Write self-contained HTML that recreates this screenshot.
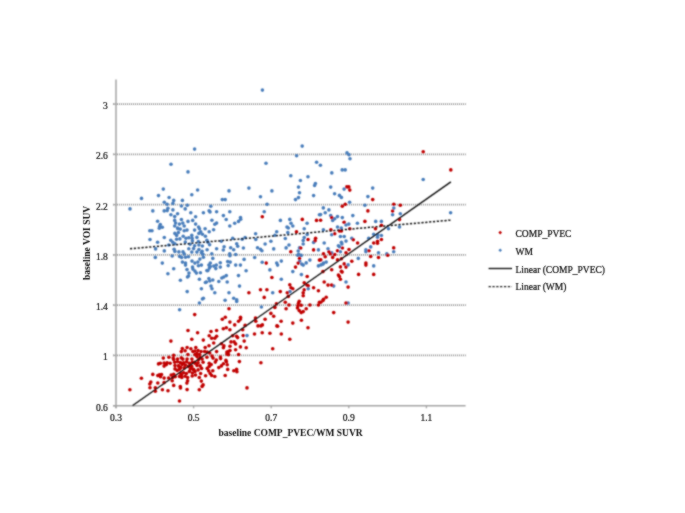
<!DOCTYPE html>
<html><head><meta charset="utf-8"><style>html,body{margin:0;padding:0;background:#fff;width:685px;height:513px;overflow:hidden}svg{display:block}</style></head><body>
<svg width="685" height="513" viewBox="0 0 685 513">
<defs><filter id="bl" filterUnits="userSpaceOnUse" x="0" y="0" width="685" height="513"><feConvolveMatrix order="3" kernelMatrix="1 2 1 2 8 2 1 2 1" divisor="20" edgeMode="duplicate"/></filter><filter id="gs" x="-5%" y="-20%" width="110%" height="140%"><feColorMatrix type="saturate" values="0"/><feConvolveMatrix order="3" kernelMatrix="1 1 1 1 16 1 1 1 1" divisor="24" edgeMode="duplicate"/></filter></defs>
<rect width="685" height="513" fill="#fff"/>
<g filter="url(#bl)">
<line x1="113" y1="355.43" x2="465.8" y2="355.43" stroke="#8E8E8E" stroke-width="1.8" stroke-dasharray="1,1"/>
<line x1="113" y1="305.16" x2="465.8" y2="305.16" stroke="#8E8E8E" stroke-width="1.8" stroke-dasharray="1,1"/>
<line x1="113" y1="254.90" x2="465.8" y2="254.90" stroke="#8E8E8E" stroke-width="1.8" stroke-dasharray="1,1"/>
<line x1="113" y1="204.63" x2="465.8" y2="204.63" stroke="#8E8E8E" stroke-width="1.8" stroke-dasharray="1,1"/>
<line x1="113" y1="154.36" x2="465.8" y2="154.36" stroke="#8E8E8E" stroke-width="1.8" stroke-dasharray="1,1"/>
<line x1="113" y1="104.09" x2="465.8" y2="104.09" stroke="#8E8E8E" stroke-width="1.8" stroke-dasharray="1,1"/>
<line x1="116" y1="79.5" x2="116" y2="408.3" stroke="#A5A5A5" stroke-width="1.5"/>
<line x1="113" y1="405.70" x2="465.6" y2="405.70" stroke="#A5A5A5" stroke-width="1.5"/>
<line x1="113" y1="405.70" x2="116" y2="405.70" stroke="#A5A5A5" stroke-width="1.3"/>
<line x1="113" y1="355.43" x2="116" y2="355.43" stroke="#A5A5A5" stroke-width="1.3"/>
<line x1="113" y1="305.16" x2="116" y2="305.16" stroke="#A5A5A5" stroke-width="1.3"/>
<line x1="113" y1="254.90" x2="116" y2="254.90" stroke="#A5A5A5" stroke-width="1.3"/>
<line x1="113" y1="204.63" x2="116" y2="204.63" stroke="#A5A5A5" stroke-width="1.3"/>
<line x1="113" y1="154.36" x2="116" y2="154.36" stroke="#A5A5A5" stroke-width="1.3"/>
<line x1="113" y1="104.09" x2="116" y2="104.09" stroke="#A5A5A5" stroke-width="1.3"/>
<line x1="116.00" y1="405.70" x2="116.00" y2="408.3" stroke="#A5A5A5" stroke-width="1.3"/>
<line x1="193.60" y1="405.70" x2="193.60" y2="408.3" stroke="#A5A5A5" stroke-width="1.3"/>
<line x1="271.20" y1="405.70" x2="271.20" y2="408.3" stroke="#A5A5A5" stroke-width="1.3"/>
<line x1="348.80" y1="405.70" x2="348.80" y2="408.3" stroke="#A5A5A5" stroke-width="1.3"/>
<line x1="426.40" y1="405.70" x2="426.40" y2="408.3" stroke="#A5A5A5" stroke-width="1.3"/>
</g><g filter="url(#gs)">
<text x="107.8" y="410.60" text-anchor="end" font-family="Liberation Serif, serif" font-size="9.5" fill="#111" stroke="#111" stroke-width="0.22">0.6</text>
<text x="107.8" y="360.33" text-anchor="end" font-family="Liberation Serif, serif" font-size="9.5" fill="#111" stroke="#111" stroke-width="0.22">1</text>
<text x="107.8" y="310.06" text-anchor="end" font-family="Liberation Serif, serif" font-size="9.5" fill="#111" stroke="#111" stroke-width="0.22">1.4</text>
<text x="107.8" y="259.80" text-anchor="end" font-family="Liberation Serif, serif" font-size="9.5" fill="#111" stroke="#111" stroke-width="0.22">1.8</text>
<text x="107.8" y="209.53" text-anchor="end" font-family="Liberation Serif, serif" font-size="9.5" fill="#111" stroke="#111" stroke-width="0.22">2.2</text>
<text x="107.8" y="159.26" text-anchor="end" font-family="Liberation Serif, serif" font-size="9.5" fill="#111" stroke="#111" stroke-width="0.22">2.6</text>
<text x="107.8" y="108.99" text-anchor="end" font-family="Liberation Serif, serif" font-size="9.5" fill="#111" stroke="#111" stroke-width="0.22">3</text>
<text x="116.00" y="420.6" text-anchor="middle" font-family="Liberation Serif, serif" font-size="9.5" fill="#111" stroke="#111" stroke-width="0.22">0.3</text>
<text x="193.60" y="420.6" text-anchor="middle" font-family="Liberation Serif, serif" font-size="9.5" fill="#111" stroke="#111" stroke-width="0.22">0.5</text>
<text x="271.20" y="420.6" text-anchor="middle" font-family="Liberation Serif, serif" font-size="9.5" fill="#111" stroke="#111" stroke-width="0.22">0.7</text>
<text x="348.80" y="420.6" text-anchor="middle" font-family="Liberation Serif, serif" font-size="9.5" fill="#111" stroke="#111" stroke-width="0.22">0.9</text>
<text x="426.40" y="420.6" text-anchor="middle" font-family="Liberation Serif, serif" font-size="9.5" fill="#111" stroke="#111" stroke-width="0.22">1.1</text>
<text x="290.6" y="436.3" text-anchor="middle" font-family="Liberation Serif, serif" font-size="9.5" font-weight="bold" fill="#111">baseline COMP_PVEC/WM SUVR</text>
<text transform="translate(90.3,242.9) rotate(-90)" x="0" y="0" text-anchor="middle" font-family="Liberation Serif, serif" font-size="9.5" font-weight="bold" fill="#111">baseline VOI SUV</text>
</g><g filter="url(#bl)">
<g fill="#4A7EBB">
<circle cx="194.6" cy="149.1" r="1.8"/>
<circle cx="171.0" cy="164.3" r="1.8"/>
<circle cx="188.0" cy="171.9" r="1.8"/>
<circle cx="262.4" cy="90.1" r="1.8"/>
<circle cx="302.2" cy="146.1" r="1.8"/>
<circle cx="296.6" cy="155.7" r="1.8"/>
<circle cx="347.0" cy="152.9" r="1.8"/>
<circle cx="349.0" cy="154.7" r="1.8"/>
<circle cx="350.0" cy="158.7" r="1.8"/>
<circle cx="266.0" cy="163.3" r="1.8"/>
<circle cx="316.6" cy="162.3" r="1.8"/>
<circle cx="320.4" cy="165.3" r="1.8"/>
<circle cx="342.2" cy="169.9" r="1.8"/>
<circle cx="345.2" cy="169.9" r="1.8"/>
<circle cx="331.8" cy="172.9" r="1.8"/>
<circle cx="290.8" cy="175.7" r="1.8"/>
<circle cx="308.0" cy="176.7" r="1.8"/>
<circle cx="300.4" cy="180.5" r="1.8"/>
<circle cx="423.2" cy="179.5" r="1.8"/>
<circle cx="163.3" cy="189.1" r="1.8"/>
<circle cx="158.5" cy="195.6" r="1.8"/>
<circle cx="141.5" cy="198.4" r="1.8"/>
<circle cx="169.1" cy="197.5" r="1.8"/>
<circle cx="173.7" cy="200.4" r="1.8"/>
<circle cx="182.4" cy="200.4" r="1.8"/>
<circle cx="164.3" cy="202.2" r="1.8"/>
<circle cx="167.1" cy="204.2" r="1.8"/>
<circle cx="172.9" cy="203.4" r="1.8"/>
<circle cx="181.4" cy="206.0" r="1.8"/>
<circle cx="130.0" cy="208.9" r="1.8"/>
<circle cx="152.8" cy="210.9" r="1.8"/>
<circle cx="167.9" cy="208.3" r="1.8"/>
<circle cx="164.2" cy="210.9" r="1.8"/>
<circle cx="167.2" cy="210.6" r="1.8"/>
<circle cx="172.9" cy="209.9" r="1.8"/>
<circle cx="170.9" cy="214.7" r="1.8"/>
<circle cx="177.6" cy="213.7" r="1.8"/>
<circle cx="174.7" cy="216.6" r="1.8"/>
<circle cx="181.4" cy="219.5" r="1.8"/>
<circle cx="174.7" cy="220.4" r="1.8"/>
<circle cx="157.6" cy="221.3" r="1.8"/>
<circle cx="175.6" cy="223.1" r="1.8"/>
<circle cx="160.3" cy="224.5" r="1.8"/>
<circle cx="179.4" cy="224.1" r="1.8"/>
<circle cx="182.8" cy="223.1" r="1.8"/>
<circle cx="174.7" cy="226.0" r="1.8"/>
<circle cx="159.7" cy="226.2" r="1.8"/>
<circle cx="162.3" cy="227.2" r="1.8"/>
<circle cx="159.3" cy="228.2" r="1.8"/>
<circle cx="177.6" cy="228.0" r="1.8"/>
<circle cx="149.8" cy="230.8" r="1.8"/>
<circle cx="152.0" cy="230.8" r="1.8"/>
<circle cx="197.6" cy="190.0" r="1.8"/>
<circle cx="191.8" cy="194.7" r="1.8"/>
<circle cx="229.0" cy="190.9" r="1.8"/>
<circle cx="248.9" cy="188.1" r="1.8"/>
<circle cx="222.3" cy="199.6" r="1.8"/>
<circle cx="225.2" cy="199.6" r="1.8"/>
<circle cx="187.3" cy="205.2" r="1.8"/>
<circle cx="185.2" cy="208.9" r="1.8"/>
<circle cx="210.8" cy="206.2" r="1.8"/>
<circle cx="190.8" cy="212.7" r="1.8"/>
<circle cx="203.4" cy="212.7" r="1.8"/>
<circle cx="209.1" cy="210.8" r="1.8"/>
<circle cx="210.0" cy="211.9" r="1.8"/>
<circle cx="216.6" cy="211.7" r="1.8"/>
<circle cx="229.8" cy="211.7" r="1.8"/>
<circle cx="195.6" cy="216.7" r="1.8"/>
<circle cx="223.4" cy="215.6" r="1.8"/>
<circle cx="226.2" cy="219.5" r="1.8"/>
<circle cx="188.0" cy="221.4" r="1.8"/>
<circle cx="192.7" cy="220.4" r="1.8"/>
<circle cx="211.9" cy="220.3" r="1.8"/>
<circle cx="240.5" cy="217.6" r="1.8"/>
<circle cx="240.7" cy="219.3" r="1.8"/>
<circle cx="238.5" cy="221.4" r="1.8"/>
<circle cx="195.6" cy="224.1" r="1.8"/>
<circle cx="198.6" cy="227.0" r="1.8"/>
<circle cx="214.8" cy="224.3" r="1.8"/>
<circle cx="216.6" cy="223.1" r="1.8"/>
<circle cx="234.7" cy="223.3" r="1.8"/>
<circle cx="229.8" cy="226.0" r="1.8"/>
<circle cx="184.2" cy="226.0" r="1.8"/>
<circle cx="200.7" cy="231.7" r="1.8"/>
<circle cx="205.1" cy="228.8" r="1.8"/>
<circle cx="209.2" cy="231.7" r="1.8"/>
<circle cx="213.6" cy="229.8" r="1.8"/>
<circle cx="271.9" cy="190.9" r="1.8"/>
<circle cx="260.5" cy="196.7" r="1.8"/>
<circle cx="298.5" cy="187.1" r="1.8"/>
<circle cx="315.4" cy="183.5" r="1.8"/>
<circle cx="314.6" cy="185.5" r="1.8"/>
<circle cx="299.5" cy="192.7" r="1.8"/>
<circle cx="313.6" cy="195.6" r="1.8"/>
<circle cx="298.5" cy="197.6" r="1.8"/>
<circle cx="295.5" cy="199.6" r="1.8"/>
<circle cx="267.1" cy="204.2" r="1.8"/>
<circle cx="264.2" cy="211.8" r="1.8"/>
<circle cx="280.4" cy="220.4" r="1.8"/>
<circle cx="289.8" cy="219.4" r="1.8"/>
<circle cx="291.0" cy="223.3" r="1.8"/>
<circle cx="292.8" cy="226.0" r="1.8"/>
<circle cx="287.0" cy="227.0" r="1.8"/>
<circle cx="288.3" cy="228.0" r="1.8"/>
<circle cx="307.1" cy="223.3" r="1.8"/>
<circle cx="304.2" cy="228.8" r="1.8"/>
<circle cx="319.4" cy="214.7" r="1.8"/>
<circle cx="276.7" cy="231.7" r="1.8"/>
<circle cx="287.8" cy="232.5" r="1.8"/>
<circle cx="330.7" cy="187.1" r="1.8"/>
<circle cx="344.1" cy="189.1" r="1.8"/>
<circle cx="372.7" cy="188.1" r="1.8"/>
<circle cx="334.6" cy="193.7" r="1.8"/>
<circle cx="339.4" cy="195.4" r="1.8"/>
<circle cx="341.4" cy="197.4" r="1.8"/>
<circle cx="367.9" cy="196.6" r="1.8"/>
<circle cx="349.6" cy="202.2" r="1.8"/>
<circle cx="364.9" cy="205.2" r="1.8"/>
<circle cx="323.3" cy="207.9" r="1.8"/>
<circle cx="328.9" cy="209.9" r="1.8"/>
<circle cx="325.2" cy="212.7" r="1.8"/>
<circle cx="320.6" cy="214.6" r="1.8"/>
<circle cx="330.7" cy="215.6" r="1.8"/>
<circle cx="334.7" cy="218.8" r="1.8"/>
<circle cx="332.7" cy="220.4" r="1.8"/>
<circle cx="337.5" cy="216.6" r="1.8"/>
<circle cx="342.3" cy="217.6" r="1.8"/>
<circle cx="352.8" cy="215.6" r="1.8"/>
<circle cx="346.0" cy="225.0" r="1.8"/>
<circle cx="348.8" cy="224.1" r="1.8"/>
<circle cx="357.4" cy="223.3" r="1.8"/>
<circle cx="375.7" cy="221.4" r="1.8"/>
<circle cx="381.4" cy="221.4" r="1.8"/>
<circle cx="337.5" cy="227.0" r="1.8"/>
<circle cx="341.3" cy="228.0" r="1.8"/>
<circle cx="323.4" cy="229.8" r="1.8"/>
<circle cx="393.8" cy="208.1" r="1.8"/>
<circle cx="392.6" cy="214.7" r="1.8"/>
<circle cx="400.3" cy="213.7" r="1.8"/>
<circle cx="399.5" cy="227.0" r="1.8"/>
<circle cx="450.6" cy="212.7" r="1.8"/>
<circle cx="388.5" cy="228.8" r="1.8"/>
<circle cx="150.0" cy="239.5" r="1.8"/>
<circle cx="164.3" cy="237.5" r="1.8"/>
<circle cx="157.6" cy="242.2" r="1.8"/>
<circle cx="155.6" cy="248.9" r="1.8"/>
<circle cx="164.3" cy="250.9" r="1.8"/>
<circle cx="155.3" cy="257.4" r="1.8"/>
<circle cx="162.3" cy="263.1" r="1.8"/>
<circle cx="182.4" cy="262.1" r="1.8"/>
<circle cx="173.7" cy="268.8" r="1.8"/>
<circle cx="167.9" cy="273.7" r="1.8"/>
<circle cx="180.4" cy="280.2" r="1.8"/>
<circle cx="172.2" cy="256.0" r="1.8"/>
<circle cx="179.6" cy="256.4" r="1.8"/>
<circle cx="181.6" cy="257.4" r="1.8"/>
<circle cx="205.4" cy="236.3" r="1.8"/>
<circle cx="202.4" cy="234.3" r="1.8"/>
<circle cx="206.9" cy="240.3" r="1.8"/>
<circle cx="207.9" cy="242.2" r="1.8"/>
<circle cx="209.6" cy="244.7" r="1.8"/>
<circle cx="202.4" cy="246.0" r="1.8"/>
<circle cx="207.1" cy="249.7" r="1.8"/>
<circle cx="216.6" cy="248.7" r="1.8"/>
<circle cx="221.3" cy="241.3" r="1.8"/>
<circle cx="232.7" cy="238.3" r="1.8"/>
<circle cx="224.1" cy="246.7" r="1.8"/>
<circle cx="223.3" cy="250.0" r="1.8"/>
<circle cx="230.7" cy="247.7" r="1.8"/>
<circle cx="233.7" cy="249.7" r="1.8"/>
<circle cx="236.7" cy="243.7" r="1.8"/>
<circle cx="237.7" cy="246.2" r="1.8"/>
<circle cx="243.4" cy="248.0" r="1.8"/>
<circle cx="242.2" cy="239.3" r="1.8"/>
<circle cx="245.1" cy="237.5" r="1.8"/>
<circle cx="202.1" cy="251.2" r="1.8"/>
<circle cx="202.9" cy="254.2" r="1.8"/>
<circle cx="201.4" cy="252.7" r="1.8"/>
<circle cx="203.4" cy="257.2" r="1.8"/>
<circle cx="199.9" cy="259.1" r="1.8"/>
<circle cx="211.8" cy="253.7" r="1.8"/>
<circle cx="212.8" cy="258.4" r="1.8"/>
<circle cx="229.7" cy="253.7" r="1.8"/>
<circle cx="229.9" cy="255.7" r="1.8"/>
<circle cx="235.7" cy="254.5" r="1.8"/>
<circle cx="244.1" cy="259.4" r="1.8"/>
<circle cx="227.7" cy="261.6" r="1.8"/>
<circle cx="230.2" cy="262.1" r="1.8"/>
<circle cx="228.2" cy="265.6" r="1.8"/>
<circle cx="220.3" cy="262.8" r="1.8"/>
<circle cx="220.3" cy="267.1" r="1.8"/>
<circle cx="216.3" cy="265.1" r="1.8"/>
<circle cx="213.8" cy="266.1" r="1.8"/>
<circle cx="215.8" cy="268.6" r="1.8"/>
<circle cx="210.3" cy="263.1" r="1.8"/>
<circle cx="208.9" cy="265.1" r="1.8"/>
<circle cx="210.3" cy="266.6" r="1.8"/>
<circle cx="209.4" cy="268.1" r="1.8"/>
<circle cx="207.9" cy="270.6" r="1.8"/>
<circle cx="206.9" cy="270.6" r="1.8"/>
<circle cx="201.4" cy="265.1" r="1.8"/>
<circle cx="198.4" cy="265.8" r="1.8"/>
<circle cx="235.7" cy="265.1" r="1.8"/>
<circle cx="240.4" cy="265.1" r="1.8"/>
<circle cx="246.1" cy="270.8" r="1.8"/>
<circle cx="192.0" cy="261.1" r="1.8"/>
<circle cx="194.9" cy="263.1" r="1.8"/>
<circle cx="197.9" cy="262.1" r="1.8"/>
<circle cx="185.5" cy="263.1" r="1.8"/>
<circle cx="185.5" cy="265.1" r="1.8"/>
<circle cx="187.0" cy="269.6" r="1.8"/>
<circle cx="189.0" cy="273.1" r="1.8"/>
<circle cx="192.5" cy="267.1" r="1.8"/>
<circle cx="192.9" cy="269.1" r="1.8"/>
<circle cx="194.9" cy="271.1" r="1.8"/>
<circle cx="196.4" cy="273.1" r="1.8"/>
<circle cx="200.4" cy="272.8" r="1.8"/>
<circle cx="187.5" cy="277.0" r="1.8"/>
<circle cx="188.5" cy="276.0" r="1.8"/>
<circle cx="199.4" cy="279.2" r="1.8"/>
<circle cx="208.9" cy="278.5" r="1.8"/>
<circle cx="209.8" cy="281.0" r="1.8"/>
<circle cx="212.8" cy="280.0" r="1.8"/>
<circle cx="205.4" cy="282.5" r="1.8"/>
<circle cx="206.4" cy="282.0" r="1.8"/>
<circle cx="218.8" cy="281.5" r="1.8"/>
<circle cx="221.8" cy="278.0" r="1.8"/>
<circle cx="223.8" cy="277.0" r="1.8"/>
<circle cx="226.3" cy="275.6" r="1.8"/>
<circle cx="227.2" cy="282.0" r="1.8"/>
<circle cx="238.5" cy="275.6" r="1.8"/>
<circle cx="185.5" cy="257.2" r="1.8"/>
<circle cx="188.5" cy="256.7" r="1.8"/>
<circle cx="255.6" cy="233.8" r="1.8"/>
<circle cx="274.9" cy="235.3" r="1.8"/>
<circle cx="307.2" cy="234.5" r="1.8"/>
<circle cx="255.8" cy="239.5" r="1.8"/>
<circle cx="270.9" cy="241.3" r="1.8"/>
<circle cx="265.1" cy="244.0" r="1.8"/>
<circle cx="285.3" cy="238.5" r="1.8"/>
<circle cx="304.2" cy="237.5" r="1.8"/>
<circle cx="303.2" cy="240.5" r="1.8"/>
<circle cx="303.2" cy="244.0" r="1.8"/>
<circle cx="313.6" cy="242.4" r="1.8"/>
<circle cx="257.5" cy="247.7" r="1.8"/>
<circle cx="260.5" cy="249.2" r="1.8"/>
<circle cx="261.9" cy="250.7" r="1.8"/>
<circle cx="273.7" cy="248.9" r="1.8"/>
<circle cx="286.1" cy="247.9" r="1.8"/>
<circle cx="289.0" cy="245.0" r="1.8"/>
<circle cx="299.5" cy="247.7" r="1.8"/>
<circle cx="298.2" cy="251.0" r="1.8"/>
<circle cx="318.4" cy="249.9" r="1.8"/>
<circle cx="254.7" cy="257.5" r="1.8"/>
<circle cx="297.7" cy="255.2" r="1.8"/>
<circle cx="301.2" cy="255.4" r="1.8"/>
<circle cx="298.7" cy="254.2" r="1.8"/>
<circle cx="299.7" cy="261.1" r="1.8"/>
<circle cx="301.7" cy="264.1" r="1.8"/>
<circle cx="303.2" cy="265.1" r="1.8"/>
<circle cx="306.2" cy="262.9" r="1.8"/>
<circle cx="309.9" cy="260.1" r="1.8"/>
<circle cx="318.4" cy="265.9" r="1.8"/>
<circle cx="262.2" cy="262.3" r="1.8"/>
<circle cx="276.7" cy="263.1" r="1.8"/>
<circle cx="277.6" cy="265.1" r="1.8"/>
<circle cx="281.3" cy="261.1" r="1.8"/>
<circle cx="269.9" cy="269.9" r="1.8"/>
<circle cx="292.8" cy="271.6" r="1.8"/>
<circle cx="301.4" cy="274.6" r="1.8"/>
<circle cx="281.3" cy="279.2" r="1.8"/>
<circle cx="331.7" cy="234.8" r="1.8"/>
<circle cx="340.4" cy="236.5" r="1.8"/>
<circle cx="344.2" cy="236.5" r="1.8"/>
<circle cx="351.8" cy="238.3" r="1.8"/>
<circle cx="346.0" cy="241.1" r="1.8"/>
<circle cx="324.2" cy="243.0" r="1.8"/>
<circle cx="341.4" cy="242.2" r="1.8"/>
<circle cx="341.9" cy="244.0" r="1.8"/>
<circle cx="338.4" cy="245.7" r="1.8"/>
<circle cx="339.4" cy="246.7" r="1.8"/>
<circle cx="328.0" cy="248.7" r="1.8"/>
<circle cx="331.7" cy="252.7" r="1.8"/>
<circle cx="340.4" cy="251.7" r="1.8"/>
<circle cx="326.2" cy="262.1" r="1.8"/>
<circle cx="323.5" cy="263.1" r="1.8"/>
<circle cx="321.0" cy="264.9" r="1.8"/>
<circle cx="323.0" cy="264.1" r="1.8"/>
<circle cx="358.3" cy="258.4" r="1.8"/>
<circle cx="348.1" cy="264.9" r="1.8"/>
<circle cx="346.0" cy="282.0" r="1.8"/>
<circle cx="373.7" cy="265.9" r="1.8"/>
<circle cx="378.5" cy="252.7" r="1.8"/>
<circle cx="386.8" cy="253.9" r="1.8"/>
<circle cx="365.9" cy="249.7" r="1.8"/>
<circle cx="365.9" cy="251.7" r="1.8"/>
<circle cx="370.7" cy="246.9" r="1.8"/>
<circle cx="368.7" cy="238.3" r="1.8"/>
<circle cx="381.4" cy="235.5" r="1.8"/>
<circle cx="377.5" cy="237.3" r="1.8"/>
<circle cx="373.7" cy="234.3" r="1.8"/>
<circle cx="377.7" cy="234.8" r="1.8"/>
<circle cx="393.7" cy="251.7" r="1.8"/>
<circle cx="179.6" cy="309.8" r="1.8"/>
<circle cx="211.0" cy="286.1" r="1.8"/>
<circle cx="212.0" cy="288.8" r="1.8"/>
<circle cx="201.4" cy="288.8" r="1.8"/>
<circle cx="187.2" cy="291.6" r="1.8"/>
<circle cx="214.8" cy="292.8" r="1.8"/>
<circle cx="229.0" cy="292.8" r="1.8"/>
<circle cx="239.5" cy="286.1" r="1.8"/>
<circle cx="202.4" cy="299.0" r="1.8"/>
<circle cx="203.4" cy="298.2" r="1.8"/>
<circle cx="199.4" cy="303.0" r="1.8"/>
<circle cx="225.1" cy="300.2" r="1.8"/>
<circle cx="233.7" cy="298.2" r="1.8"/>
<circle cx="236.7" cy="299.7" r="1.8"/>
<circle cx="236.7" cy="301.4" r="1.8"/>
<circle cx="308.2" cy="288.8" r="1.8"/>
<circle cx="272.7" cy="292.8" r="1.8"/>
<circle cx="290.0" cy="291.6" r="1.8"/>
<circle cx="261.4" cy="307.0" r="1.8"/>
<circle cx="333.7" cy="286.1" r="1.8"/>
<circle cx="348.1" cy="303.0" r="1.8"/>
<circle cx="177.9" cy="228.8" r="1.8"/>
<circle cx="180.2" cy="229.1" r="1.8"/>
<circle cx="184.2" cy="230.8" r="1.8"/>
<circle cx="187.0" cy="230.1" r="1.8"/>
<circle cx="194.6" cy="230.1" r="1.8"/>
<circle cx="199.5" cy="228.8" r="1.8"/>
<circle cx="174.9" cy="233.4" r="1.8"/>
<circle cx="178.4" cy="232.6" r="1.8"/>
<circle cx="176.6" cy="235.4" r="1.8"/>
<circle cx="183.2" cy="236.2" r="1.8"/>
<circle cx="186.0" cy="238.2" r="1.8"/>
<circle cx="188.8" cy="237.7" r="1.8"/>
<circle cx="191.8" cy="235.4" r="1.8"/>
<circle cx="192.1" cy="238.2" r="1.8"/>
<circle cx="192.4" cy="240.7" r="1.8"/>
<circle cx="176.6" cy="239.2" r="1.8"/>
<circle cx="179.9" cy="238.9" r="1.8"/>
<circle cx="170.8" cy="240.2" r="1.8"/>
<circle cx="172.8" cy="242.2" r="1.8"/>
<circle cx="174.9" cy="243.8" r="1.8"/>
<circle cx="168.8" cy="245.0" r="1.8"/>
<circle cx="185.3" cy="242.0" r="1.8"/>
<circle cx="190.1" cy="244.3" r="1.8"/>
<circle cx="194.6" cy="245.8" r="1.8"/>
<circle cx="193.6" cy="248.6" r="1.8"/>
<circle cx="188.8" cy="248.8" r="1.8"/>
<circle cx="196.9" cy="237.4" r="1.8"/>
<circle cx="198.9" cy="233.4" r="1.8"/>
<circle cx="198.4" cy="241.5" r="1.8"/>
<circle cx="198.9" cy="245.0" r="1.8"/>
<circle cx="174.1" cy="249.3" r="1.8"/>
<circle cx="174.9" cy="251.4" r="1.8"/>
<circle cx="178.9" cy="251.9" r="1.8"/>
<circle cx="183.0" cy="251.9" r="1.8"/>
<circle cx="184.2" cy="253.9" r="1.8"/>
<circle cx="191.8" cy="252.1" r="1.8"/>
<circle cx="196.9" cy="252.1" r="1.8"/>
<circle cx="198.9" cy="249.6" r="1.8"/>
<circle cx="247.0" cy="335.6" r="1.8"/>
</g>
<g fill="#C00000">
<circle cx="423.2" cy="151.7" r="1.8"/>
<circle cx="450.8" cy="169.9" r="1.8"/>
<circle cx="262.3" cy="216.7" r="1.8"/>
<circle cx="302.3" cy="219.4" r="1.8"/>
<circle cx="316.5" cy="220.4" r="1.8"/>
<circle cx="296.5" cy="231.7" r="1.8"/>
<circle cx="346.8" cy="186.9" r="1.8"/>
<circle cx="348.8" cy="186.9" r="1.8"/>
<circle cx="349.8" cy="190.1" r="1.8"/>
<circle cx="372.7" cy="199.6" r="1.8"/>
<circle cx="342.3" cy="206.2" r="1.8"/>
<circle cx="345.3" cy="204.2" r="1.8"/>
<circle cx="367.9" cy="210.9" r="1.8"/>
<circle cx="331.7" cy="217.6" r="1.8"/>
<circle cx="320.6" cy="220.3" r="1.8"/>
<circle cx="344.1" cy="222.3" r="1.8"/>
<circle cx="364.9" cy="221.4" r="1.8"/>
<circle cx="381.4" cy="225.2" r="1.8"/>
<circle cx="349.8" cy="228.8" r="1.8"/>
<circle cx="375.5" cy="228.8" r="1.8"/>
<circle cx="330.9" cy="229.8" r="1.8"/>
<circle cx="339.4" cy="231.0" r="1.8"/>
<circle cx="341.4" cy="231.0" r="1.8"/>
<circle cx="393.8" cy="204.2" r="1.8"/>
<circle cx="400.3" cy="205.2" r="1.8"/>
<circle cx="392.6" cy="211.1" r="1.8"/>
<circle cx="399.5" cy="219.6" r="1.8"/>
<circle cx="308.0" cy="239.5" r="1.8"/>
<circle cx="315.6" cy="238.3" r="1.8"/>
<circle cx="315.1" cy="240.8" r="1.8"/>
<circle cx="300.7" cy="248.0" r="1.8"/>
<circle cx="290.8" cy="251.7" r="1.8"/>
<circle cx="313.6" cy="249.9" r="1.8"/>
<circle cx="299.5" cy="258.4" r="1.8"/>
<circle cx="298.2" cy="263.1" r="1.8"/>
<circle cx="319.4" cy="260.1" r="1.8"/>
<circle cx="266.2" cy="263.1" r="1.8"/>
<circle cx="295.5" cy="267.1" r="1.8"/>
<circle cx="307.2" cy="276.5" r="1.8"/>
<circle cx="271.9" cy="277.5" r="1.8"/>
<circle cx="304.2" cy="282.8" r="1.8"/>
<circle cx="334.7" cy="233.8" r="1.8"/>
<circle cx="353.3" cy="239.8" r="1.8"/>
<circle cx="357.6" cy="243.0" r="1.8"/>
<circle cx="342.4" cy="248.0" r="1.8"/>
<circle cx="349.0" cy="249.5" r="1.8"/>
<circle cx="346.0" cy="252.7" r="1.8"/>
<circle cx="328.9" cy="251.7" r="1.8"/>
<circle cx="330.4" cy="253.7" r="1.8"/>
<circle cx="323.5" cy="253.7" r="1.8"/>
<circle cx="325.2" cy="256.7" r="1.8"/>
<circle cx="334.7" cy="254.5" r="1.8"/>
<circle cx="332.7" cy="257.4" r="1.8"/>
<circle cx="337.5" cy="250.7" r="1.8"/>
<circle cx="341.4" cy="258.7" r="1.8"/>
<circle cx="337.5" cy="259.9" r="1.8"/>
<circle cx="320.8" cy="259.9" r="1.8"/>
<circle cx="351.8" cy="261.3" r="1.8"/>
<circle cx="344.2" cy="263.9" r="1.8"/>
<circle cx="346.0" cy="267.1" r="1.8"/>
<circle cx="340.4" cy="266.9" r="1.8"/>
<circle cx="331.7" cy="269.8" r="1.8"/>
<circle cx="323.0" cy="271.6" r="1.8"/>
<circle cx="341.4" cy="271.3" r="1.8"/>
<circle cx="342.1" cy="272.1" r="1.8"/>
<circle cx="338.4" cy="275.1" r="1.8"/>
<circle cx="339.4" cy="276.5" r="1.8"/>
<circle cx="340.4" cy="279.2" r="1.8"/>
<circle cx="324.2" cy="282.0" r="1.8"/>
<circle cx="358.6" cy="274.4" r="1.8"/>
<circle cx="373.7" cy="274.4" r="1.8"/>
<circle cx="365.9" cy="263.1" r="1.8"/>
<circle cx="365.9" cy="265.1" r="1.8"/>
<circle cx="370.7" cy="256.5" r="1.8"/>
<circle cx="378.5" cy="257.5" r="1.8"/>
<circle cx="369.0" cy="250.8" r="1.8"/>
<circle cx="373.7" cy="243.0" r="1.8"/>
<circle cx="377.5" cy="241.3" r="1.8"/>
<circle cx="377.5" cy="243.2" r="1.8"/>
<circle cx="381.4" cy="239.5" r="1.8"/>
<circle cx="393.7" cy="247.9" r="1.8"/>
<circle cx="387.7" cy="255.2" r="1.8"/>
<circle cx="248.9" cy="292.8" r="1.8"/>
<circle cx="229.0" cy="308.7" r="1.8"/>
<circle cx="194.7" cy="314.6" r="1.8"/>
<circle cx="222.3" cy="319.3" r="1.8"/>
<circle cx="225.3" cy="317.3" r="1.8"/>
<circle cx="240.5" cy="317.3" r="1.8"/>
<circle cx="240.5" cy="319.1" r="1.8"/>
<circle cx="238.5" cy="321.3" r="1.8"/>
<circle cx="229.9" cy="322.1" r="1.8"/>
<circle cx="234.7" cy="324.9" r="1.8"/>
<circle cx="245.1" cy="325.4" r="1.8"/>
<circle cx="223.3" cy="328.8" r="1.8"/>
<circle cx="226.3" cy="327.7" r="1.8"/>
<circle cx="229.9" cy="329.8" r="1.8"/>
<circle cx="242.7" cy="329.8" r="1.8"/>
<circle cx="188.0" cy="330.5" r="1.8"/>
<circle cx="197.6" cy="332.7" r="1.8"/>
<circle cx="211.0" cy="331.5" r="1.8"/>
<circle cx="216.6" cy="330.5" r="1.8"/>
<circle cx="289.8" cy="284.8" r="1.8"/>
<circle cx="291.0" cy="287.8" r="1.8"/>
<circle cx="292.8" cy="288.8" r="1.8"/>
<circle cx="307.2" cy="285.3" r="1.8"/>
<circle cx="308.2" cy="285.8" r="1.8"/>
<circle cx="313.6" cy="287.8" r="1.8"/>
<circle cx="318.4" cy="290.8" r="1.8"/>
<circle cx="260.5" cy="289.8" r="1.8"/>
<circle cx="266.9" cy="289.8" r="1.8"/>
<circle cx="280.3" cy="291.6" r="1.8"/>
<circle cx="287.3" cy="292.8" r="1.8"/>
<circle cx="288.3" cy="296.4" r="1.8"/>
<circle cx="304.2" cy="289.8" r="1.8"/>
<circle cx="303.2" cy="292.8" r="1.8"/>
<circle cx="303.2" cy="295.7" r="1.8"/>
<circle cx="264.2" cy="297.4" r="1.8"/>
<circle cx="285.3" cy="302.2" r="1.8"/>
<circle cx="276.4" cy="303.7" r="1.8"/>
<circle cx="274.9" cy="307.4" r="1.8"/>
<circle cx="289.0" cy="305.0" r="1.8"/>
<circle cx="286.1" cy="308.7" r="1.8"/>
<circle cx="299.2" cy="301.2" r="1.8"/>
<circle cx="298.5" cy="303.2" r="1.8"/>
<circle cx="297.9" cy="305.7" r="1.8"/>
<circle cx="297.5" cy="308.0" r="1.8"/>
<circle cx="301.2" cy="305.2" r="1.8"/>
<circle cx="299.2" cy="310.6" r="1.8"/>
<circle cx="301.2" cy="312.6" r="1.8"/>
<circle cx="303.2" cy="311.6" r="1.8"/>
<circle cx="306.2" cy="308.7" r="1.8"/>
<circle cx="309.9" cy="305.0" r="1.8"/>
<circle cx="318.4" cy="305.0" r="1.8"/>
<circle cx="319.4" cy="302.2" r="1.8"/>
<circle cx="270.9" cy="313.4" r="1.8"/>
<circle cx="273.7" cy="316.3" r="1.8"/>
<circle cx="255.5" cy="318.1" r="1.8"/>
<circle cx="255.8" cy="321.3" r="1.8"/>
<circle cx="265.1" cy="319.3" r="1.8"/>
<circle cx="281.1" cy="321.3" r="1.8"/>
<circle cx="292.8" cy="323.1" r="1.8"/>
<circle cx="301.4" cy="320.3" r="1.8"/>
<circle cx="258.0" cy="325.9" r="1.8"/>
<circle cx="260.9" cy="325.9" r="1.8"/>
<circle cx="262.4" cy="324.9" r="1.8"/>
<circle cx="276.9" cy="325.9" r="1.8"/>
<circle cx="277.6" cy="326.3" r="1.8"/>
<circle cx="308.0" cy="327.7" r="1.8"/>
<circle cx="254.5" cy="334.0" r="1.8"/>
<circle cx="262.2" cy="332.7" r="1.8"/>
<circle cx="269.9" cy="333.3" r="1.8"/>
<circle cx="281.3" cy="334.0" r="1.8"/>
<circle cx="328.0" cy="285.1" r="1.8"/>
<circle cx="331.7" cy="285.1" r="1.8"/>
<circle cx="348.1" cy="287.1" r="1.8"/>
<circle cx="326.2" cy="297.2" r="1.8"/>
<circle cx="323.5" cy="299.2" r="1.8"/>
<circle cx="323.0" cy="300.4" r="1.8"/>
<circle cx="320.8" cy="302.2" r="1.8"/>
<circle cx="346.0" cy="303.0" r="1.8"/>
<circle cx="333.7" cy="312.6" r="1.8"/>
<circle cx="348.1" cy="322.1" r="1.8"/>
<circle cx="152.8" cy="374.4" r="1.8"/>
<circle cx="141.4" cy="378.2" r="1.8"/>
<circle cx="150.8" cy="382.0" r="1.8"/>
<circle cx="149.8" cy="384.0" r="1.8"/>
<circle cx="157.8" cy="383.0" r="1.8"/>
<circle cx="157.8" cy="375.6" r="1.8"/>
<circle cx="159.5" cy="374.8" r="1.8"/>
<circle cx="158.5" cy="363.9" r="1.8"/>
<circle cx="289.8" cy="339.3" r="1.8"/>
<circle cx="272.7" cy="348.7" r="1.8"/>
<circle cx="129.9" cy="389.7" r="1.8"/>
<circle cx="150.0" cy="387.7" r="1.8"/>
<circle cx="155.3" cy="387.7" r="1.8"/>
<circle cx="155.3" cy="391.2" r="1.8"/>
<circle cx="170.9" cy="341.1" r="1.8"/>
<circle cx="191.8" cy="339.3" r="1.8"/>
<circle cx="182.3" cy="348.6" r="1.8"/>
<circle cx="187.1" cy="347.5" r="1.8"/>
<circle cx="190.9" cy="348.7" r="1.8"/>
<circle cx="185.1" cy="350.8" r="1.8"/>
<circle cx="181.3" cy="351.6" r="1.8"/>
<circle cx="192.9" cy="351.5" r="1.8"/>
<circle cx="187.9" cy="354.5" r="1.8"/>
<circle cx="173.7" cy="355.3" r="1.8"/>
<circle cx="163.3" cy="358.1" r="1.8"/>
<circle cx="168.9" cy="357.2" r="1.8"/>
<circle cx="173.2" cy="358.1" r="1.8"/>
<circle cx="173.7" cy="359.6" r="1.8"/>
<circle cx="177.5" cy="359.1" r="1.8"/>
<circle cx="181.3" cy="357.9" r="1.8"/>
<circle cx="182.8" cy="359.1" r="1.8"/>
<circle cx="187.1" cy="359.1" r="1.8"/>
<circle cx="191.9" cy="359.1" r="1.8"/>
<circle cx="164.1" cy="363.1" r="1.8"/>
<circle cx="167.1" cy="362.8" r="1.8"/>
<circle cx="166.3" cy="364.6" r="1.8"/>
<circle cx="164.1" cy="366.1" r="1.8"/>
<circle cx="170.1" cy="363.3" r="1.8"/>
<circle cx="160.3" cy="363.3" r="1.8"/>
<circle cx="174.7" cy="362.3" r="1.8"/>
<circle cx="177.5" cy="361.8" r="1.8"/>
<circle cx="180.3" cy="362.6" r="1.8"/>
<circle cx="175.0" cy="365.6" r="1.8"/>
<circle cx="178.8" cy="366.1" r="1.8"/>
<circle cx="180.8" cy="367.6" r="1.8"/>
<circle cx="175.0" cy="368.9" r="1.8"/>
<circle cx="177.2" cy="370.4" r="1.8"/>
<circle cx="179.5" cy="369.2" r="1.8"/>
<circle cx="183.6" cy="362.8" r="1.8"/>
<circle cx="186.6" cy="361.8" r="1.8"/>
<circle cx="189.4" cy="363.3" r="1.8"/>
<circle cx="192.4" cy="362.3" r="1.8"/>
<circle cx="185.3" cy="365.1" r="1.8"/>
<circle cx="188.4" cy="366.4" r="1.8"/>
<circle cx="191.7" cy="366.4" r="1.8"/>
<circle cx="184.3" cy="367.9" r="1.8"/>
<circle cx="190.4" cy="368.9" r="1.8"/>
<circle cx="193.2" cy="369.4" r="1.8"/>
<circle cx="180.3" cy="373.2" r="1.8"/>
<circle cx="183.6" cy="372.7" r="1.8"/>
<circle cx="186.4" cy="373.5" r="1.8"/>
<circle cx="189.4" cy="371.4" r="1.8"/>
<circle cx="192.4" cy="373.0" r="1.8"/>
<circle cx="179.5" cy="376.5" r="1.8"/>
<circle cx="181.8" cy="377.5" r="1.8"/>
<circle cx="185.1" cy="376.3" r="1.8"/>
<circle cx="187.6" cy="377.5" r="1.8"/>
<circle cx="192.2" cy="376.0" r="1.8"/>
<circle cx="171.2" cy="375.0" r="1.8"/>
<circle cx="173.7" cy="374.2" r="1.8"/>
<circle cx="175.2" cy="376.8" r="1.8"/>
<circle cx="172.7" cy="377.5" r="1.8"/>
<circle cx="161.5" cy="374.5" r="1.8"/>
<circle cx="160.5" cy="376.8" r="1.8"/>
<circle cx="164.1" cy="378.1" r="1.8"/>
<circle cx="168.6" cy="378.0" r="1.8"/>
<circle cx="172.2" cy="380.8" r="1.8"/>
<circle cx="164.1" cy="382.6" r="1.8"/>
<circle cx="173.7" cy="385.4" r="1.8"/>
<circle cx="180.3" cy="386.6" r="1.8"/>
<circle cx="187.6" cy="380.8" r="1.8"/>
<circle cx="186.9" cy="383.1" r="1.8"/>
<circle cx="162.4" cy="389.7" r="1.8"/>
<circle cx="168.0" cy="390.7" r="1.8"/>
<circle cx="180.5" cy="387.9" r="1.8"/>
<circle cx="187.1" cy="389.6" r="1.8"/>
<circle cx="179.5" cy="401.0" r="1.8"/>
<circle cx="209.2" cy="335.8" r="1.8"/>
<circle cx="211.7" cy="338.3" r="1.8"/>
<circle cx="214.8" cy="338.3" r="1.8"/>
<circle cx="216.6" cy="336.3" r="1.8"/>
<circle cx="203.3" cy="340.1" r="1.8"/>
<circle cx="213.7" cy="343.0" r="1.8"/>
<circle cx="209.0" cy="345.8" r="1.8"/>
<circle cx="205.2" cy="347.6" r="1.8"/>
<circle cx="195.8" cy="347.6" r="1.8"/>
<circle cx="221.4" cy="343.8" r="1.8"/>
<circle cx="223.9" cy="345.9" r="1.8"/>
<circle cx="223.4" cy="347.7" r="1.8"/>
<circle cx="216.6" cy="351.6" r="1.8"/>
<circle cx="226.9" cy="352.0" r="1.8"/>
<circle cx="226.9" cy="354.1" r="1.8"/>
<circle cx="195.0" cy="351.0" r="1.8"/>
<circle cx="198.1" cy="350.5" r="1.8"/>
<circle cx="201.1" cy="351.5" r="1.8"/>
<circle cx="197.0" cy="353.5" r="1.8"/>
<circle cx="199.6" cy="354.6" r="1.8"/>
<circle cx="195.0" cy="354.6" r="1.8"/>
<circle cx="197.0" cy="356.6" r="1.8"/>
<circle cx="200.1" cy="357.6" r="1.8"/>
<circle cx="202.1" cy="359.1" r="1.8"/>
<circle cx="198.6" cy="359.6" r="1.8"/>
<circle cx="204.6" cy="351.5" r="1.8"/>
<circle cx="207.2" cy="352.0" r="1.8"/>
<circle cx="209.7" cy="353.0" r="1.8"/>
<circle cx="206.9" cy="357.3" r="1.8"/>
<circle cx="212.0" cy="356.1" r="1.8"/>
<circle cx="213.0" cy="358.1" r="1.8"/>
<circle cx="220.4" cy="357.1" r="1.8"/>
<circle cx="220.6" cy="358.6" r="1.8"/>
<circle cx="216.3" cy="360.1" r="1.8"/>
<circle cx="225.9" cy="360.4" r="1.8"/>
<circle cx="195.0" cy="363.3" r="1.8"/>
<circle cx="198.1" cy="362.8" r="1.8"/>
<circle cx="197.0" cy="365.4" r="1.8"/>
<circle cx="200.1" cy="365.9" r="1.8"/>
<circle cx="201.6" cy="368.4" r="1.8"/>
<circle cx="198.1" cy="369.9" r="1.8"/>
<circle cx="195.0" cy="371.4" r="1.8"/>
<circle cx="195.5" cy="375.0" r="1.8"/>
<circle cx="200.6" cy="373.5" r="1.8"/>
<circle cx="199.3" cy="377.5" r="1.8"/>
<circle cx="201.3" cy="381.1" r="1.8"/>
<circle cx="203.1" cy="384.9" r="1.8"/>
<circle cx="202.1" cy="386.4" r="1.8"/>
<circle cx="203.1" cy="362.3" r="1.8"/>
<circle cx="209.2" cy="363.3" r="1.8"/>
<circle cx="211.2" cy="364.6" r="1.8"/>
<circle cx="209.2" cy="366.4" r="1.8"/>
<circle cx="207.2" cy="368.4" r="1.8"/>
<circle cx="208.7" cy="370.9" r="1.8"/>
<circle cx="210.2" cy="373.5" r="1.8"/>
<circle cx="211.7" cy="375.5" r="1.8"/>
<circle cx="214.8" cy="376.5" r="1.8"/>
<circle cx="212.8" cy="370.7" r="1.8"/>
<circle cx="205.6" cy="375.7" r="1.8"/>
<circle cx="215.3" cy="362.1" r="1.8"/>
<circle cx="218.8" cy="367.6" r="1.8"/>
<circle cx="221.4" cy="365.9" r="1.8"/>
<circle cx="223.4" cy="363.8" r="1.8"/>
<circle cx="226.4" cy="361.8" r="1.8"/>
<circle cx="227.2" cy="364.8" r="1.8"/>
<circle cx="227.7" cy="369.4" r="1.8"/>
<circle cx="225.2" cy="375.5" r="1.8"/>
<circle cx="199.3" cy="389.7" r="1.8"/>
<circle cx="232.6" cy="335.8" r="1.8"/>
<circle cx="236.6" cy="336.3" r="1.8"/>
<circle cx="237.6" cy="337.6" r="1.8"/>
<circle cx="243.2" cy="335.6" r="1.8"/>
<circle cx="231.0" cy="341.9" r="1.8"/>
<circle cx="234.1" cy="341.9" r="1.8"/>
<circle cx="235.6" cy="343.9" r="1.8"/>
<circle cx="244.2" cy="341.1" r="1.8"/>
<circle cx="230.0" cy="346.2" r="1.8"/>
<circle cx="240.4" cy="346.9" r="1.8"/>
<circle cx="246.2" cy="347.7" r="1.8"/>
<circle cx="235.6" cy="349.7" r="1.8"/>
<circle cx="230.0" cy="350.5" r="1.8"/>
<circle cx="228.5" cy="351.5" r="1.8"/>
<circle cx="228.5" cy="354.6" r="1.8"/>
<circle cx="238.6" cy="354.5" r="1.8"/>
<circle cx="239.4" cy="361.6" r="1.8"/>
<circle cx="233.8" cy="370.7" r="1.8"/>
<circle cx="236.6" cy="369.4" r="1.8"/>
<circle cx="236.9" cy="371.7" r="1.8"/>
<circle cx="260.9" cy="362.8" r="1.8"/>
<circle cx="247.0" cy="387.9" r="1.8"/>
<circle cx="178.5" cy="365.9" r="1.8"/>
<circle cx="182.2" cy="364.4" r="1.8"/>
<circle cx="181.5" cy="375.1" r="1.8"/>
<circle cx="193.7" cy="369.6" r="1.8"/>
<circle cx="194.8" cy="362.2" r="1.8"/>
</g>
<line x1="132.7" y1="405.5" x2="450.9" y2="181.9" stroke="#111" stroke-width="1.35"/>
<line x1="130.0" y1="248.8" x2="450.9" y2="220.1" stroke="#111" stroke-width="1.5" stroke-dasharray="2.2,1.65"/>
<path d="M500.2 230.8L502.0 232.6L500.2 234.4L498.4 232.6Z" fill="#C00000"/>
<path d="M500.2 248.5L502.0 250.3L500.2 252.1L498.4 250.3Z" fill="#4A7EBB"/>
</g><g filter="url(#gs)">
<text x="515.5" y="236.8" font-family="Liberation Serif, serif" font-size="9.5" fill="#111" stroke="#111" stroke-width="0.22">COMP_PVEC</text>
<text x="515.5" y="254.5" font-family="Liberation Serif, serif" font-size="9.5" fill="#111" stroke="#111" stroke-width="0.22">WM</text>
<text x="515.5" y="272.6" font-family="Liberation Serif, serif" font-size="9.5" fill="#111" stroke="#111" stroke-width="0.22">Linear (COMP_PVEC)</text>
<text x="515.5" y="290.3" font-family="Liberation Serif, serif" font-size="9.5" fill="#111" stroke="#111" stroke-width="0.22">Linear (WM)</text>
</g><g filter="url(#bl)">
<line x1="488.6" y1="268.5" x2="512" y2="268.5" stroke="#111" stroke-width="1.3"/>
<line x1="488.6" y1="286.6" x2="512" y2="286.6" stroke="#1a1a1a" stroke-width="1.4" stroke-dasharray="2.2,1.65"/>
</g>
</svg>
</body></html>
